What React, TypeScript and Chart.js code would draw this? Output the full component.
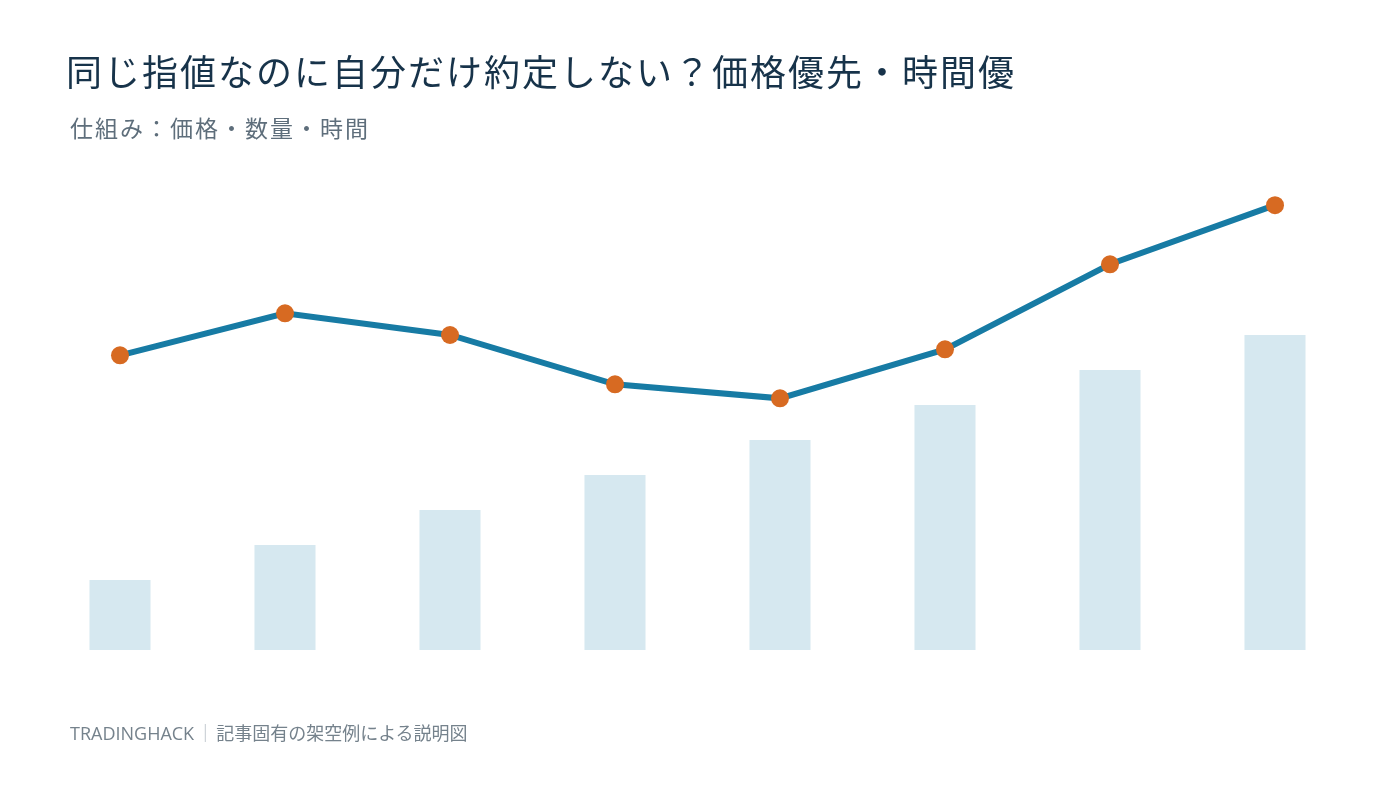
import React, { useEffect, useRef } from "react";
import { Chart, registerables } from "chart.js";

Chart.register(...registerables);

const categories = ["注文1", "注文2", "注文3", "注文4", "注文5", "注文6", "注文7", "注文8"];
const quantityValues = [20, 30, 40, 50, 60, 70, 80, 90];
const priceValues = [84.2, 96.2, 90.0, 75.9, 71.9, 85.9, 110.2, 127.1];
const titleText = "同じ指値なのに自分だけ約定しない？価格優先・時間優";
const subtitleText = "仕組み：価格・数量・時間";
const footerBrand = "TRADINGHACK";
const footerNote = "記事固有の架空例による説明図";

const FONT = '"Noto Sans CJK JP", "Noto Sans", sans-serif';

export default function App() {
  const canvasRef = useRef<HTMLCanvasElement | null>(null);

  useEffect(() => {
    if (!canvasRef.current) return;
    const chart = new Chart(canvasRef.current, {
      type: "bar",
      data: {
        labels: categories,
        datasets: [
          {
            type: "line",
            label: "価格",
            data: priceValues,
            borderColor: "#177BA4",
            borderWidth: 6,
            pointRadius: 9,
            pointHoverRadius: 9,
            pointBackgroundColor: "#D76A22",
            pointBorderColor: "#D76A22",
            pointBorderWidth: 0,
            tension: 0,
            order: 1,
            yAxisID: "y",
          },
          {
            type: "bar",
            label: "数量",
            data: quantityValues,
            backgroundColor: "#D6E8F0",
            borderWidth: 0,
            categoryPercentage: 1,
            barPercentage: 0.37,
            order: 2,
            yAxisID: "y",
          },
        ],
      },
      options: {
        animation: false,
        responsive: true,
        maintainAspectRatio: false,
        layout: { padding: { left: 37.5, right: 42.5, top: 160, bottom: 138 } },
        plugins: {
          legend: { display: false },
          tooltip: { enabled: false },
          title: { display: false },
        },
        scales: {
          x: { display: false, grid: { display: false } },
          y: { display: false, min: 0, max: 140, grid: { display: false } },
        },
      },
    });
    return () => chart.destroy();
  }, []);

  return (
    <div
      style={{
        position: "absolute",
        left: 0,
        top: 0,
        width: 1400,
        height: 788,
        background: "#ffffff",
        overflow: "hidden",
        fontFamily: FONT,
      }}
    >
      <div style={{ position: "absolute", left: 0, top: 0, width: 1400, height: 788 }}>
        <canvas ref={canvasRef} />
      </div>
      <div
        style={{
          position: "absolute",
          left: 66,
          top: 44,
          fontSize: 36,
          lineHeight: "52px",
          color: "#17334A",
          whiteSpace: "nowrap",
          letterSpacing: 2,
        }}
      >
        {titleText}
      </div>
      <div
        style={{
          position: "absolute",
          left: 70,
          top: 110,
          fontSize: 23,
          lineHeight: "34px",
          color: "#5E6E7B",
          whiteSpace: "nowrap",
          letterSpacing: 2,
        }}
      >
        {subtitleText}
      </div>
      <div
        style={{
          position: "absolute",
          left: 70,
          top: 719,
          fontSize: 18,
          lineHeight: "28px",
          color: "#75828C",
          whiteSpace: "nowrap",
          fontFamily: '"Open Sans", "Noto Sans CJK JP", sans-serif',
        }}
      >
        {footerBrand}
        <span style={{ color: "#B5BEC5", margin: "0 2px" }}>｜</span>
        {footerNote}
      </div>
    </div>
  );
}
